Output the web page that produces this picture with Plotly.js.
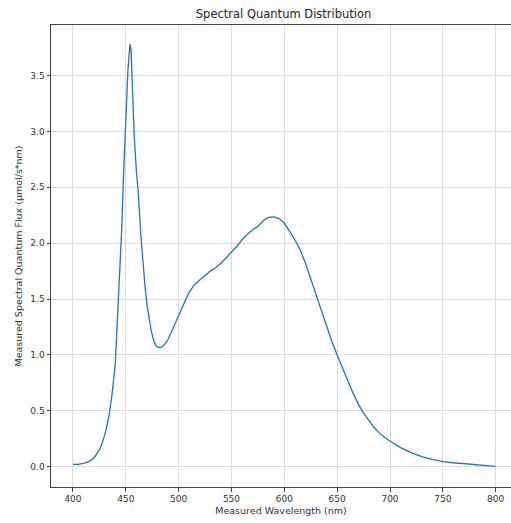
<!DOCTYPE html>
<html>
<head>
<meta charset="utf-8">
<script src="https://cdn.plot.ly/plotly-3.0.1.min.js"></script>
<style>html,body{margin:0;padding:0;background:#fff;}#chart{width:511px;height:523px;}</style>
</head>
<body>
<div id="chart"></div>
<script>
const wavelength = [400,405,410,415,420,425,428,431,434,437,440,442,444,446,448,450,452,454,455,456,458,460,462,464,466,468,470,472,474,476,478,480,482,484,486,488,490,493,496,500,505,510,515,520,525,530,535,540,545,550,555,560,565,570,575,580,585,590,595,600,605,610,615,620,625,630,635,640,645,650,655,660,665,670,675,680,685,690,695,700,710,720,730,740,750,760,770,780,790,800];
const flux = [0.02,0.02,0.03,0.045,0.08,0.15,0.22,0.32,0.45,0.65,0.92,1.3,1.7,2.1,2.65,3.15,3.55,3.78,3.72,3.45,2.95,2.65,2.42,2.1,1.85,1.63,1.45,1.32,1.22,1.14,1.09,1.07,1.065,1.07,1.09,1.11,1.14,1.2,1.26,1.35,1.46,1.56,1.63,1.67,1.71,1.75,1.78,1.82,1.87,1.92,1.97,2.03,2.08,2.12,2.15,2.2,2.23,2.235,2.22,2.18,2.11,2.03,1.94,1.82,1.68,1.54,1.39,1.25,1.12,1.0,0.88,0.77,0.66,0.56,0.48,0.41,0.35,0.3,0.26,0.23,0.17,0.125,0.09,0.065,0.045,0.035,0.028,0.022,0.012,0.003];
const xTicks = [400,450,500,550,600,650,700,750,800];
const yTicks = [0,0.5,1,1.5,2,2.5,3,3.5];
const yTickText = ['0.0','0.5','1.0','1.5','2.0','2.5','3.0','3.5'];

const trace = {x: wavelength, y: flux, type: 'scatter', mode: 'lines',
  line: {color: '#1f77b4', width: 1.3}, hoverinfo: 'skip'};

const layout = {
  width: 511, height: 523,
  margin: {l: 51, r: 0, t: 25, b: 36},
  paper_bgcolor: '#fff', plot_bgcolor: '#fff',
  font: {family: 'DejaVu Sans', color: '#333', size: 9},
  showlegend: false,
  title: {text: 'Spectral Quantum Distribution', font: {size: 11.5, color: '#222'},
    xref: 'container', yref: 'container', x: 0.555, y: 0.974, xanchor: 'center', yanchor: 'middle'},
  xaxis: {range: [379.2, 814.5], tickvals: xTicks, ticktext: xTicks.map(String),
    showgrid: true, gridcolor: '#dcdcdc', gridwidth: 1, zeroline: false,
    showline: true, linecolor: '#444', linewidth: 1, mirror: true,
    ticks: 'outside', ticklen: 3.5, tickcolor: '#444',
    title: {text: 'Measured Wavelength (nm)', font: {size: 9.5, color: '#333'}, standoff: 4}},
  yaxis: {range: [-0.182, 3.952], tickvals: yTicks, ticktext: yTickText,
    showgrid: true, gridcolor: '#dcdcdc', gridwidth: 1, zeroline: false,
    showline: true, linecolor: '#444', linewidth: 1, mirror: false,
    ticks: 'outside', ticklen: 3.5, tickcolor: '#444',
    title: {text: 'Measured Spectral Quantum Flux (µmol/s*nm)', font: {size: 9.5, color: '#333'}, standoff: 6}}
};

Plotly.newPlot('chart', [trace], layout, {staticPlot: true, displayModeBar: false});
</script>
</body>
</html>
